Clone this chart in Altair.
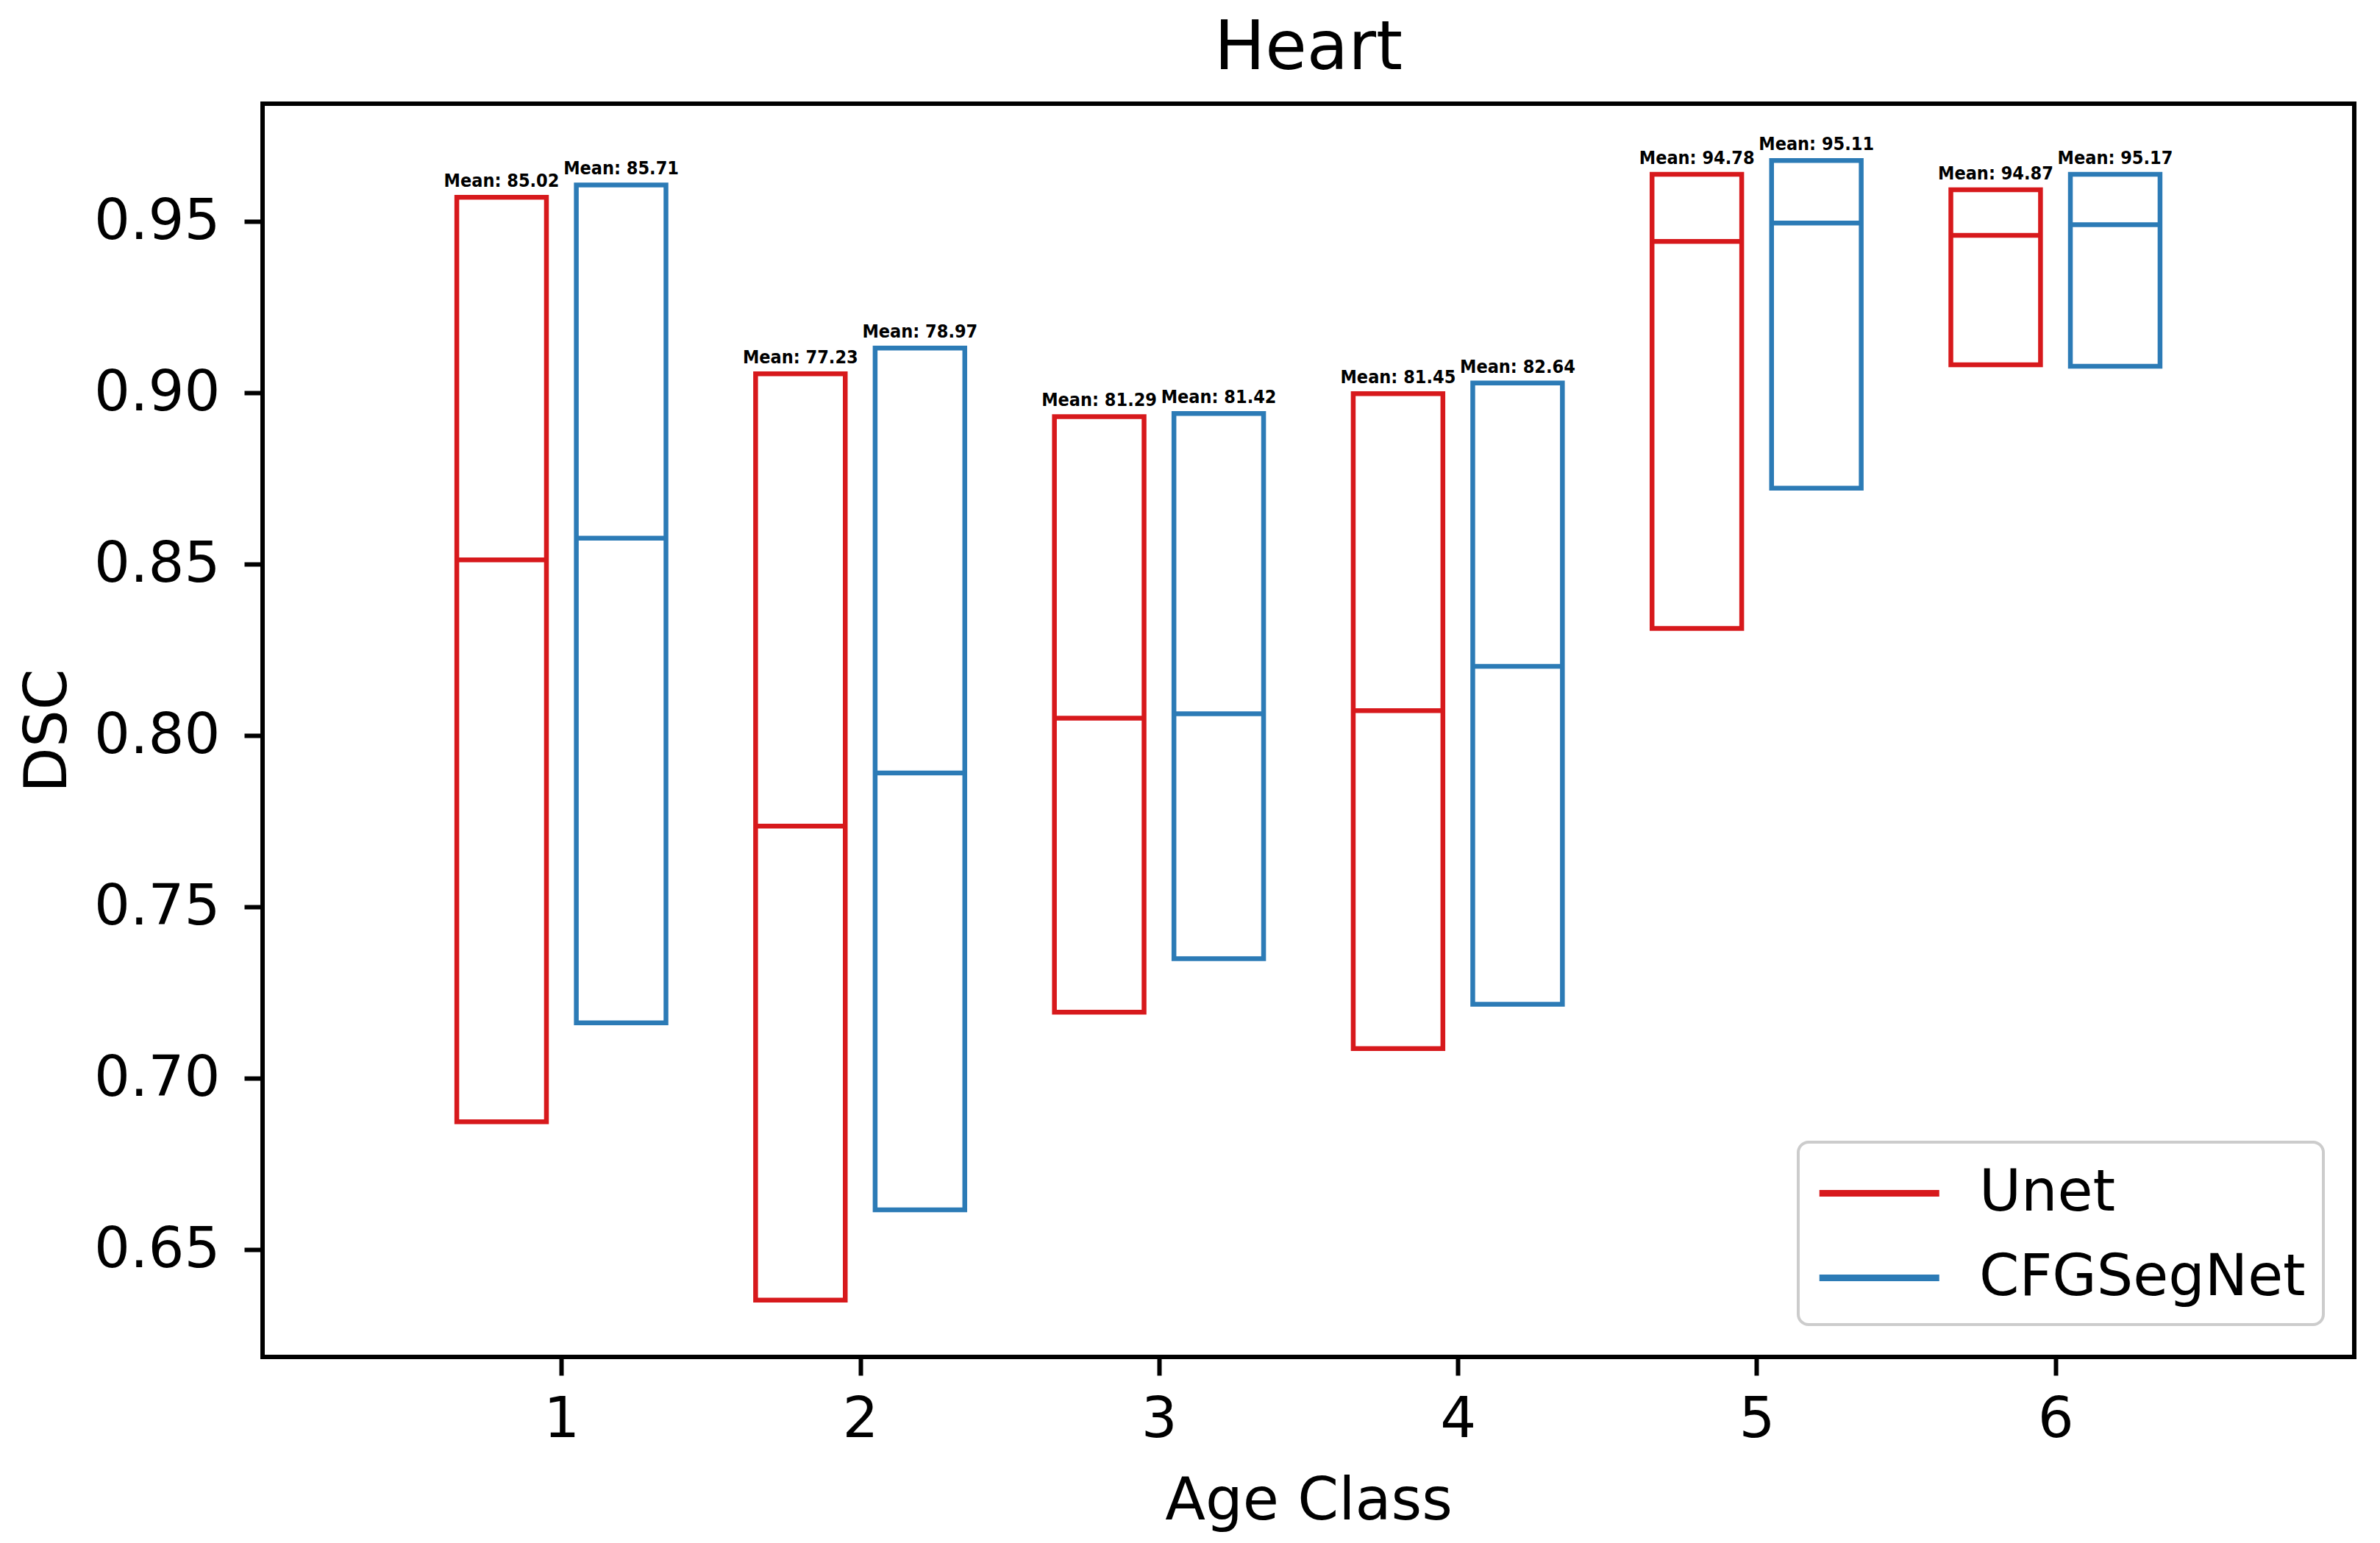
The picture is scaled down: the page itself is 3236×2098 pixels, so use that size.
import altair as alt
import pandas as pd

classes = [1, 2, 3, 4, 5, 6]
models = ["Unet", "CFGSegNet"]
colors = ["#d7191c", "#2c7bb6"]

unet_q1 = [0.6873, 0.6353, 0.7193, 0.7087, 0.8313, 0.9082]
unet_med = [0.8513, 0.7736, 0.8051, 0.8073, 0.9442, 0.9460]
unet_q3 = [0.9571, 0.9056, 0.8931, 0.8998, 0.9638, 0.9593]
unet_mean = [85.02, 77.23, 81.29, 81.45, 94.78, 94.87]

cfg_q1 = [0.7162, 0.6616, 0.7349, 0.7216, 0.8722, 0.9078]
cfg_med = [0.8576, 0.7891, 0.8064, 0.8202, 0.9496, 0.9491]
cfg_q3 = [0.9607, 0.9131, 0.8940, 0.9029, 0.9678, 0.9638]
cfg_mean = [85.71, 78.97, 81.42, 82.64, 95.11, 95.17]

offsets = {"Unet": -0.2, "CFGSegNet": 0.2}
half_w = 0.15

rows = []
for m, q1s, meds, q3s, means in [
    ("Unet", unet_q1, unet_med, unet_q3, unet_mean),
    ("CFGSegNet", cfg_q1, cfg_med, cfg_q3, cfg_mean),
]:
    for c, a, b, d, mn in zip(classes, q1s, meds, q3s, means):
        rows.append({"cls": c, "model": m, "off": offsets[m], "q1": a, "med": b,
                     "q3": d, "label": f"Mean: {mn:.2f}"})
df = pd.DataFrame(rows)

W, H = 2844, 1704
FONT = "DejaVu Sans"
LABEL_FONT = "'Liberation Sans Narrow', 'DejaVu Sans Condensed', 'DejaVu Sans', sans-serif"

xscale = alt.Scale(domain=[0, 7], nice=False, zero=False)
yscale = alt.Scale(domain=[0.6187, 0.9844], nice=False, zero=False)
xaxis = alt.Axis(values=classes, format="d", title="Age Class", labelPadding=22,
                 titlePadding=34)
yaxis = alt.Axis(values=[0.65, 0.70, 0.75, 0.80, 0.85, 0.90, 0.95], format=".2f",
                 title="DSC", labelPadding=33, titlePadding=51)
cscale = alt.Scale(domain=models, range=colors)

base = alt.Chart(df).transform_calculate(
    xc="datum.cls + datum.off",
    xl=f"datum.cls + datum.off - {half_w}",
    xr=f"datum.cls + datum.off + {half_w}",
)

SW = 6.5

boxes = base.mark_rect(filled=False, strokeWidth=SW, strokeJoin="miter").encode(
    x=alt.X("xl:Q", scale=xscale, axis=xaxis),
    x2="xr:Q",
    y=alt.Y("q1:Q", scale=yscale, axis=yaxis),
    y2="q3:Q",
    stroke=alt.Stroke("model:N", scale=cscale, legend=alt.Legend(
        title=None, orient="none", legendX=2088, legendY=1412,
        symbolType="M-1,0H3", symbolSize=6642, symbolStrokeWidth=9,
        labelFont=FONT, labelFontSize=78, labelColor="black", labelLimit=2000,
        labelOffset=131, rowPadding=30, padding=24,
        strokeColor="#cccccc", fillColor="white", cornerRadius=14,
    )),
)

meds = base.mark_rule(strokeWidth=SW).encode(
    x=alt.X("xl:Q", scale=xscale, axis=xaxis),
    x2="xr:Q",
    y=alt.Y("med:Q", scale=yscale, axis=yaxis),
    stroke=alt.Stroke("model:N", scale=cscale, legend=None),
)

labels = base.mark_text(
    font=LABEL_FONT, fontWeight="bold", fontSize=25, color="black",
    baseline="alphabetic", align="center", dy=-14,
).encode(
    x=alt.X("xc:Q", scale=xscale, axis=xaxis),
    y=alt.Y("q3:Q", scale=yscale, axis=yaxis),
    text="label:N",
)

chart = alt.layer(boxes, meds, labels).properties(
    width=W, height=H,
    title=alt.TitleParams("Heart", font=FONT, fontSize=92, fontWeight="normal",
                          color="black", anchor="middle", frame="group", offset=28),
    autosize=alt.AutoSizeParams(type="none"),
    padding={"left": 349, "top": 133, "right": 22, "bottom": 246},
).configure_view(
    stroke="black", strokeWidth=6
).configure_axis(
    labelFont=FONT, labelFontSize=77, labelColor="black",
    titleFont=FONT, titleFontSize=80, titleFontWeight="normal", titleColor="black",
    tickColor="black", tickWidth=6, tickSize=25, domain=False, grid=False,
    labelLimit=1000,
).configure_legend(strokeWidth=4)

chart.save("out.html", embed_options={"renderer": "svg", "actions": False})
